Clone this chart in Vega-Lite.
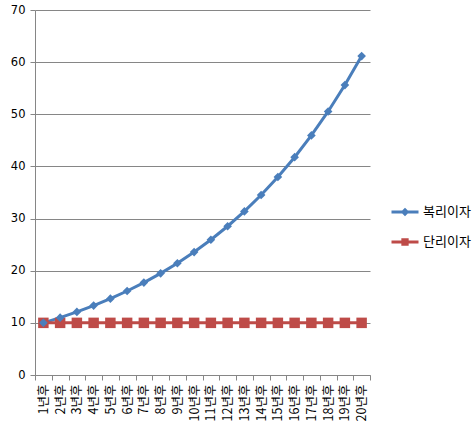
{
  "$schema": "https://vega.github.io/schema/vega-lite/v6.json",
  "autosize": {"type": "none"},
  "width": 335,
  "height": 365,
  "padding": {"left": 35, "top": 10, "right": 105, "bottom": 57},
  "background": "white",
  "config": {"view": {"stroke": null}, "font": "Noto Sans CJK KR"},
  "data": {"values": [
    {"year": "1년후", "series": "복리이자", "value": 10},
    {"year": "2년후", "series": "복리이자", "value": 11},
    {"year": "3년후", "series": "복리이자", "value": 12.1},
    {"year": "4년후", "series": "복리이자", "value": 13.31},
    {"year": "5년후", "series": "복리이자", "value": 14.64},
    {"year": "6년후", "series": "복리이자", "value": 16.11},
    {"year": "7년후", "series": "복리이자", "value": 17.72},
    {"year": "8년후", "series": "복리이자", "value": 19.49},
    {"year": "9년후", "series": "복리이자", "value": 21.44},
    {"year": "10년후", "series": "복리이자", "value": 23.58},
    {"year": "11년후", "series": "복리이자", "value": 25.94},
    {"year": "12년후", "series": "복리이자", "value": 28.53},
    {"year": "13년후", "series": "복리이자", "value": 31.38},
    {"year": "14년후", "series": "복리이자", "value": 34.52},
    {"year": "15년후", "series": "복리이자", "value": 37.97},
    {"year": "16년후", "series": "복리이자", "value": 41.77},
    {"year": "17년후", "series": "복리이자", "value": 45.95},
    {"year": "18년후", "series": "복리이자", "value": 50.54},
    {"year": "19년후", "series": "복리이자", "value": 55.6},
    {"year": "20년후", "series": "복리이자", "value": 61.16},
    {"year": "1년후", "series": "단리이자", "value": 10},
    {"year": "2년후", "series": "단리이자", "value": 10},
    {"year": "3년후", "series": "단리이자", "value": 10},
    {"year": "4년후", "series": "단리이자", "value": 10},
    {"year": "5년후", "series": "단리이자", "value": 10},
    {"year": "6년후", "series": "단리이자", "value": 10},
    {"year": "7년후", "series": "단리이자", "value": 10},
    {"year": "8년후", "series": "단리이자", "value": 10},
    {"year": "9년후", "series": "단리이자", "value": 10},
    {"year": "10년후", "series": "단리이자", "value": 10},
    {"year": "11년후", "series": "단리이자", "value": 10},
    {"year": "12년후", "series": "단리이자", "value": 10},
    {"year": "13년후", "series": "단리이자", "value": 10},
    {"year": "14년후", "series": "단리이자", "value": 10},
    {"year": "15년후", "series": "단리이자", "value": 10},
    {"year": "16년후", "series": "단리이자", "value": 10},
    {"year": "17년후", "series": "단리이자", "value": 10},
    {"year": "18년후", "series": "단리이자", "value": 10},
    {"year": "19년후", "series": "단리이자", "value": 10},
    {"year": "20년후", "series": "단리이자", "value": 10}
  ]},
  "encoding": {
    "x": {
      "field": "year", "type": "ordinal", "sort": null,
      "scale": {"paddingInner": 0, "paddingOuter": 0},
      "axis": {
        "title": null, "labelAngle": -90, "tickBand": "extent",
        "domainColor": "#868686", "tickColor": "#868686", "tickSize": 5,
        "labelFont": "Noto Sans CJK KR", "labelFontSize": 12.5, "labelColor": "#000000",
        "labelPadding": 4
      }
    },
    "y": {
      "field": "value", "type": "quantitative",
      "scale": {"domain": [0, 70], "nice": false},
      "axis": {
        "title": null, "values": [0, 10, 20, 30, 40, 50, 60, 70],
        "domainColor": "#868686", "tickColor": "#868686", "tickSize": 5,
        "gridColor": "#868686", "gridOpacity": 1,
        "labelFont": "DejaVu Sans", "labelFontSize": 11.5, "labelColor": "#000000",
        "labelPadding": 5
      }
    },
    "color": {
      "field": "series", "type": "nominal",
      "scale": {"domain": ["복리이자", "단리이자"], "range": ["#4A7EBB", "#BE4B48"]}
    }
  },
  "layer": [
    {
      "mark": {"type": "line", "strokeWidth": 3},
      "encoding": {
        "color": {
          "field": "series", "type": "nominal",
          "legend": {
            "title": null, "orient": "none", "legendX": 355, "legendY": 187,
            "symbolSize": 729, "symbolStrokeWidth": 3, "labelFontSize": 13,
            "labelFont": "Noto Sans CJK KR", "labelColor": "#000000",
            "rowPadding": 6, "labelOffset": 3,
            "encode": {
              "symbols": {
                "update": {
                  "shape": {"signal": "datum.value == '복리이자' ? 'M-1,0H1M0,-0.16L0.16,0L0,0.16L-0.16,0Z' : 'M-1,0H1M-0.16,-0.16H0.16V0.16H-0.16Z'"},
                  "fill": {"scale": "color", "field": "value"},
                  "fillOpacity": {"value": 1}
                }
              }
            }
          }
        }
      }
    },
    {
      "transform": [{"filter": "datum.series == '단리이자'"}],
      "mark": {"type": "point", "filled": true, "opacity": 1, "shape": "square", "size": 110},
      "encoding": {
        "color": {"field": "series", "type": "nominal", "legend": null}
      }
    },
    {
      "transform": [{"filter": "datum.series == '복리이자'"}],
      "mark": {"type": "point", "filled": true, "opacity": 1, "shape": "diamond", "size": 75},
      "encoding": {
        "color": {"field": "series", "type": "nominal", "legend": null}
      }
    }
  ]
}
